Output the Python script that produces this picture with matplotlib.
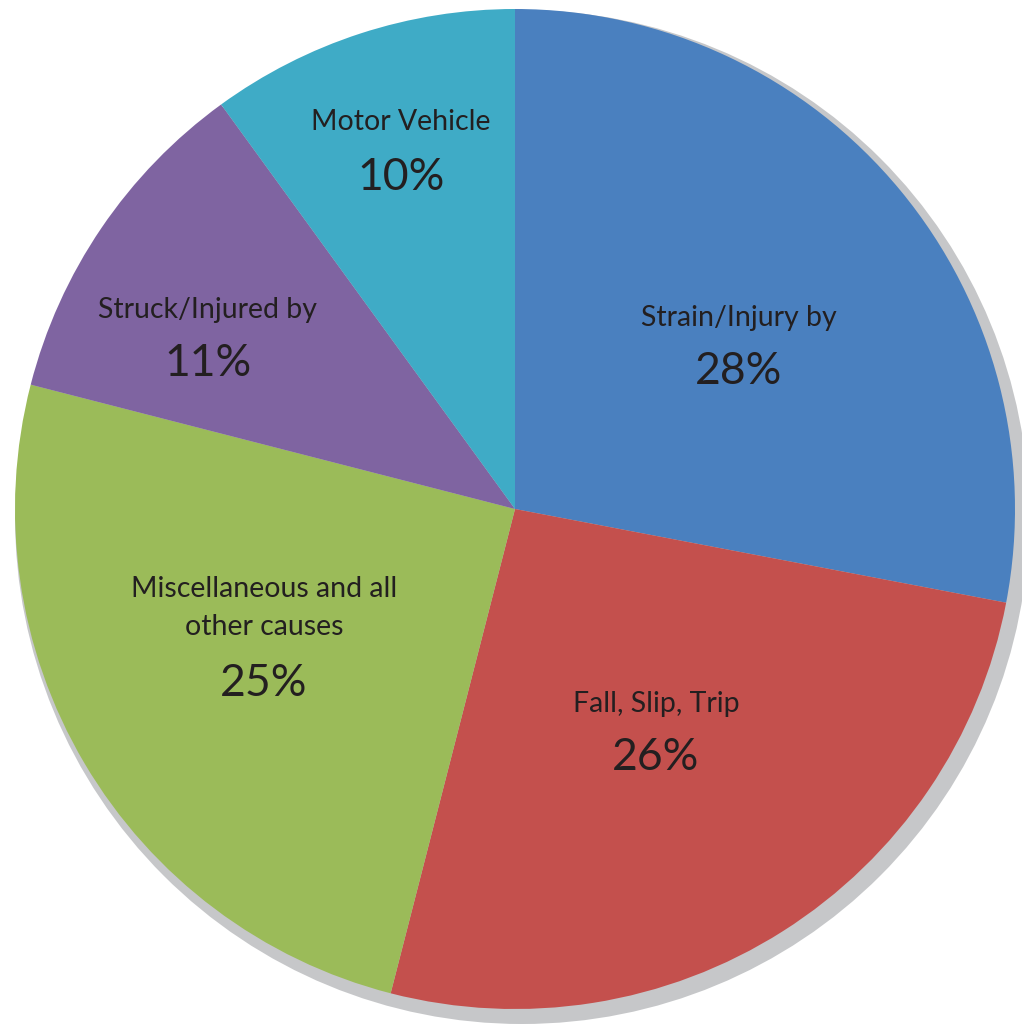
import matplotlib
matplotlib.use("Agg")
import matplotlib.pyplot as plt
from matplotlib.patches import Circle

# Injury causes and their shares (percent)
categories = ["Strain/Injury by", "Fall, Slip, Trip", "Miscellaneous and all\nother causes",
              "Struck/Injured by", "Motor Vehicle"]
shares = [28, 26, 25, 11, 10]
colors = ["#4A80BF", "#C4504D", "#9BBB59", "#7F64A1", "#3FABC6"]

W, H = 1022, 1025
fig = plt.figure(figsize=(W / 100, H / 100), dpi=100)
ax = fig.add_axes([0, 0, 1, 1])

cx, cy, r = 515, H - 509, 500

# soft drop shadow behind the pie
ax.add_patch(Circle((cx + 7, cy - 8), r + 7, facecolor="#C6C7C9", edgecolor="none", zorder=0))

wedges, _ = ax.pie(shares, colors=colors, startangle=90, counterclock=False,
                   center=(cx, cy), radius=r, frame=True,
                   wedgeprops=dict(linewidth=0, edgecolor="none"))
ax.set_xlim(0, W)
ax.set_ylim(0, H)
ax.set_aspect("equal")
ax.axis("off")

# label anchor points (pixel coords from top-left): name line, percent line
label_pos = [(739, 318, 372), (656, 704, 758), (264, 608, 684), (208, 310, 363), (401, 122, 178)]
txt = "#231F20"
for name, val, (x, yn, yp) in zip(categories, shares, label_pos):
    ax.text(x, H - yn, name, ha="center", va="center", fontsize=20.5, color=txt,
            family="Lato", linespacing=1.55, zorder=5)
    ax.text(x, H - yp, f"{val}%", ha="center", va="center", fontsize=32, color=txt,
            family="Lato", zorder=5)

fig.savefig("out.png", dpi=100)
